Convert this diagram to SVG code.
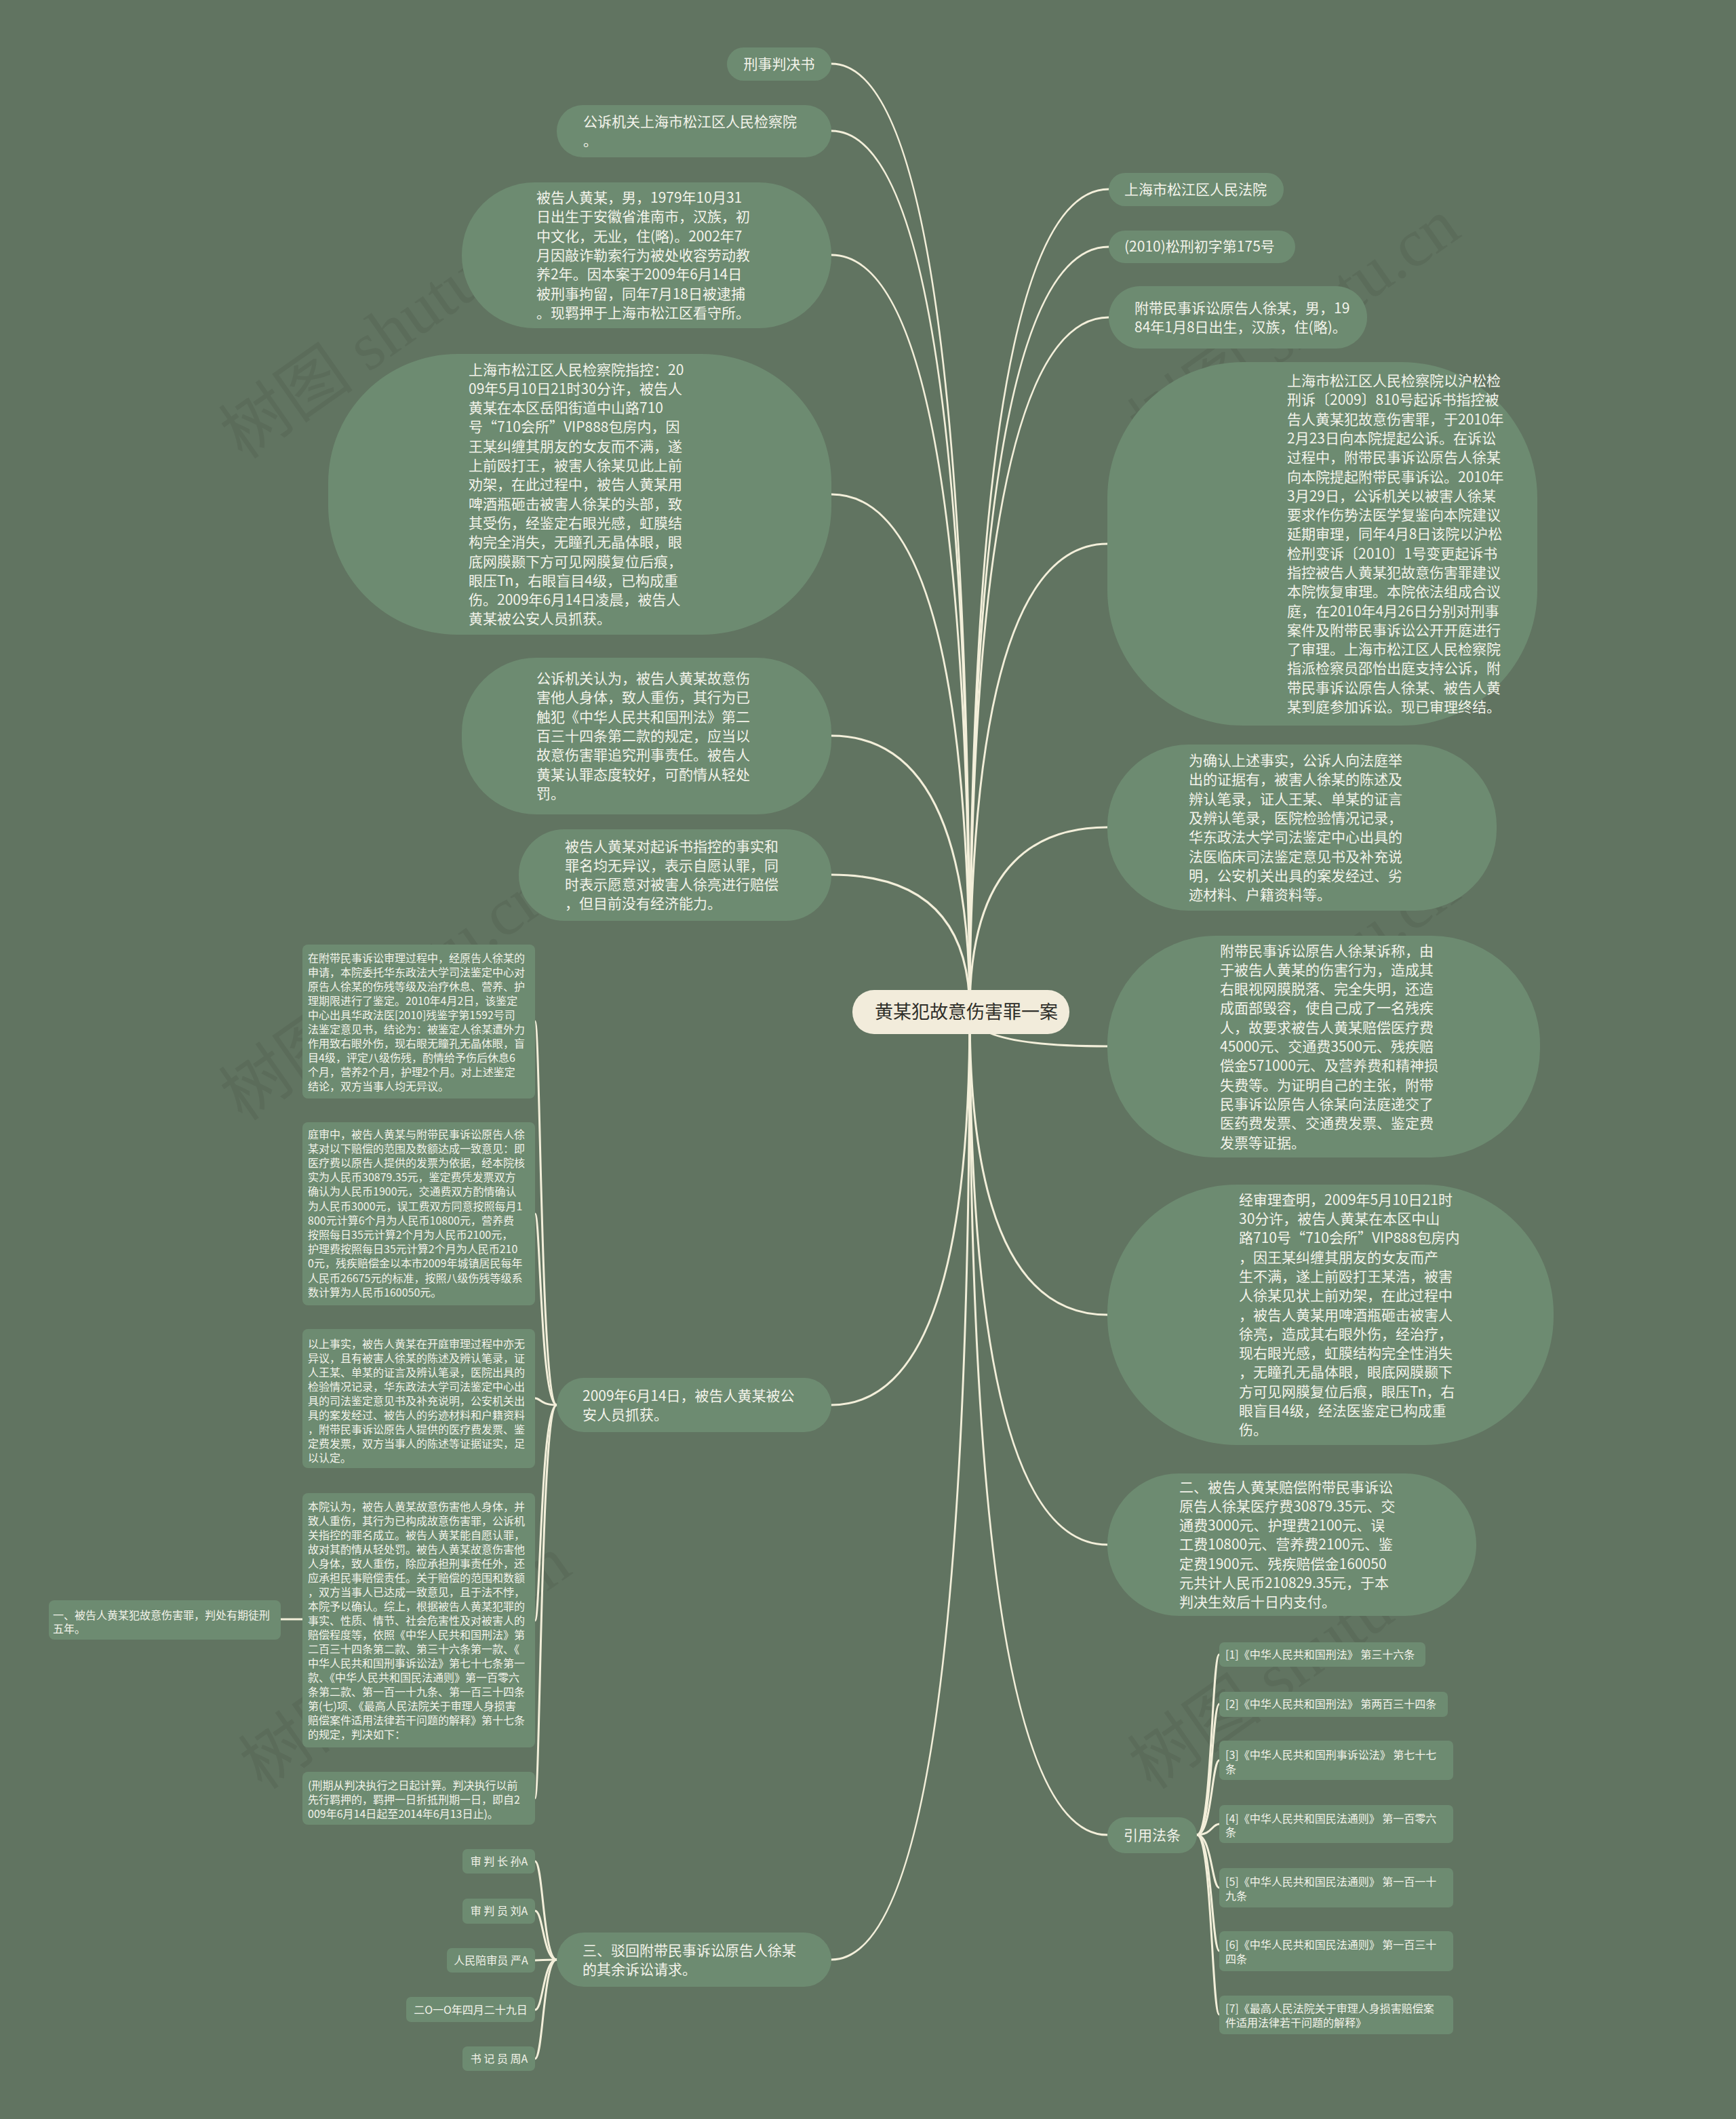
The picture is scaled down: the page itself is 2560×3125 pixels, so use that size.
<svg xmlns="http://www.w3.org/2000/svg" width="2560" height="3125" viewBox="0 0 2560 3125">
<style>
.bg{fill:#617461}
.n{fill:#6d8b71}
.t{font-family:"Noto Sans CJK SC","Noto Sans",sans-serif;font-size:21px;fill:#f3f3ea}
.s{font-size:16px}
.m{text-anchor:middle}
.c{fill:none;stroke:#f3efda;stroke-width:3;stroke-linecap:round}
.wm{font-family:"Liberation Serif","Noto Sans CJK SC",serif;font-size:100px;fill:#3e463c;opacity:0.16}
.ct{font-family:"Noto Sans CJK SC",sans-serif;font-size:27px;fill:#2f2f2a}
</style>
<rect class="bg" x="0" y="0" width="2560" height="3125"/>
<g id="watermarks">
<text class="wm" transform="translate(588,518) rotate(-35)" text-anchor="middle">树图 shutu.cn</text>
<text class="wm" transform="translate(1928,508) rotate(-35)" text-anchor="middle">树图 shutu.cn</text>
<text class="wm" transform="translate(588,1494) rotate(-35)" text-anchor="middle">树图 shutu.cn</text>
<text class="wm" transform="translate(1928,1484) rotate(-35)" text-anchor="middle">树图 shutu.cn</text>
<text class="wm" transform="translate(617,2480) rotate(-35)" text-anchor="middle">树图 shutu.cn</text>
<text class="wm" transform="translate(1928,2480) rotate(-35)" text-anchor="middle">树图 shutu.cn</text>
</g>
<g id="connectors">
<path class="c" d="M1226 94 Q1430 94 1430 1492"/>
<path class="c" d="M1226 193 Q1430 193 1430 1492"/>
<path class="c" d="M1226 376 Q1430 376 1430 1492"/>
<path class="c" d="M1226 729 Q1430 729 1430 1492"/>
<path class="c" d="M1226 1085 Q1430 1085 1430 1492"/>
<path class="c" d="M1226 1290 Q1430 1290 1430 1492"/>
<path class="c" d="M1226 2072 Q1430 2072 1430 1492"/>
<path class="c" d="M1226 2890 Q1430 2890 1430 1492"/>
<path class="c" d="M1635 279 Q1430 279 1430 1492"/>
<path class="c" d="M1635 364 Q1430 364 1430 1492"/>
<path class="c" d="M1635 468 Q1430 468 1430 1492"/>
<path class="c" d="M1633 802 Q1430 802 1430 1492"/>
<path class="c" d="M1633 1220 Q1430 1220 1430 1492"/>
<path class="c" d="M1633 1543 Q1430 1543 1430 1492"/>
<path class="c" d="M1633 1939 Q1430 1939 1430 1492"/>
<path class="c" d="M1633 2278 Q1430 2278 1430 1492"/>
<path class="c" d="M1633 2706 Q1430 2706 1430 1492"/>
<path class="c" d="M821 2072 C797 2072 797 1506 789 1506"/>
<path class="c" d="M821 2072 C797 2072 797 1790 789 1790"/>
<path class="c" d="M821 2072 C797 2072 797 2062 789 2062"/>
<path class="c" d="M821 2072 C797 2072 797 2390 789 2390"/>
<path class="c" d="M821 2072 C797 2072 797 2652 789 2652"/>
<path class="c" d="M446 2388 L414 2388"/>
<path class="c" d="M821 2890 C801 2890 801 2745 789 2745"/>
<path class="c" d="M821 2890 C801 2890 801 2818 789 2818"/>
<path class="c" d="M821 2890 C801 2890 801 2891 789 2891"/>
<path class="c" d="M821 2890 C801 2890 801 2964 789 2964"/>
<path class="c" d="M821 2890 C801 2890 801 3036 789 3036"/>
<path class="c" d="M1765 2706 C1787 2706 1787 2440 1798 2440"/>
<path class="c" d="M1765 2706 C1787 2706 1787 2513 1798 2513"/>
<path class="c" d="M1765 2706 C1787 2706 1787 2596 1798 2596"/>
<path class="c" d="M1765 2706 C1787 2706 1787 2690 1798 2690"/>
<path class="c" d="M1765 2706 C1787 2706 1787 2784 1798 2784"/>
<path class="c" d="M1765 2706 C1787 2706 1787 2877 1798 2877"/>
<path class="c" d="M1765 2706 C1787 2706 1787 2971 1798 2971"/>
</g>
<g id="center">
<rect x="1257" y="1460" width="320" height="65" rx="32" fill="#f2ecdb"/>
<text class="ct" x="1290" y="1502">黄某犯故意伤害罪一案</text>
</g>
<g id="n-L1">
<rect class="n" x="1072" y="70" width="154" height="49" rx="24.5"/>
<text class="t m" x="1149" y="102">刑事判决书</text>
</g>
<g id="n-L2">
<rect class="n" x="821" y="155" width="405" height="77" rx="38"/>
<text class="t" x="860" y="187"><tspan x="860">公诉机关上海市松江区人民检察院</tspan><tspan x="860" dy="28.3">。</tspan></text>
</g>
<g id="n-L3">
<rect class="n" x="681" y="269" width="545" height="215" rx="107"/>
<text class="t" y="299"><tspan x="791">被告人黄某，男，1979年10月31</tspan><tspan x="791" dy="28.3">日出生于安徽省淮南市，汉族，初</tspan><tspan x="791" dy="28.3">中文化，无业，住(略)。2002年7</tspan><tspan x="791" dy="28.3">月因敲诈勒索行为被处收容劳动教</tspan><tspan x="791" dy="28.3">养2年。因本案于2009年6月14日</tspan><tspan x="791" dy="28.3">被刑事拘留，同年7月18日被逮捕</tspan><tspan x="791" dy="28.3">。现羁押于上海市松江区看守所。</tspan></text>
</g>
<g id="n-L4">
<rect class="n" x="484" y="522" width="742" height="414" rx="190"/>
<text class="t" y="552.5"><tspan x="691">上海市松江区人民检察院指控：20</tspan><tspan x="691" dy="28.3">09年5月10日21时30分许，被告人</tspan><tspan x="691" dy="28.3">黄某在本区岳阳街道中山路710</tspan><tspan x="691" dy="28.3">号“710会所”VIP888包房内，因</tspan><tspan x="691" dy="28.3">王某纠缠其朋友的女友而不满，遂</tspan><tspan x="691" dy="28.3">上前殴打王，被害人徐某见此上前</tspan><tspan x="691" dy="28.3">劝架，在此过程中，被告人黄某用</tspan><tspan x="691" dy="28.3">啤酒瓶砸击被害人徐某的头部，致</tspan><tspan x="691" dy="28.3">其受伤，经鉴定右眼光感，虹膜结</tspan><tspan x="691" dy="28.3">构完全消失，无瞳孔无晶体眼，眼</tspan><tspan x="691" dy="28.3">底网膜颞下方可见网膜复位后痕，</tspan><tspan x="691" dy="28.3">眼压Tn，右眼盲目4级，已构成重</tspan><tspan x="691" dy="28.3">伤。2009年6月14日凌晨，被告人</tspan><tspan x="691" dy="28.3">黄某被公安人员抓获。</tspan></text>
</g>
<g id="n-L5">
<rect class="n" x="681" y="970" width="545" height="231" rx="110"/>
<text class="t" y="1008"><tspan x="791">公诉机关认为，被告人黄某故意伤</tspan><tspan x="791" dy="28.3">害他人身体，致人重伤，其行为已</tspan><tspan x="791" dy="28.3">触犯《中华人民共和国刑法》第二</tspan><tspan x="791" dy="28.3">百三十四条第二款的规定，应当以</tspan><tspan x="791" dy="28.3">故意伤害罪追究刑事责任。被告人</tspan><tspan x="791" dy="28.3">黄某认罪态度较好，可酌情从轻处</tspan><tspan x="791" dy="28.3">罚。</tspan></text>
</g>
<g id="n-L6">
<rect class="n" x="765" y="1223" width="461" height="135" rx="67"/>
<text class="t" y="1255.5"><tspan x="833">被告人黄某对起诉书指控的事实和</tspan><tspan x="833" dy="28.3">罪名均无异议，表示自愿认罪，同</tspan><tspan x="833" dy="28.3">时表示愿意对被害人徐亮进行赔偿</tspan><tspan x="833" dy="28.3">，但目前没有经济能力。</tspan></text>
</g>
<g id="n-L7">
<rect class="n" x="821" y="2032" width="405" height="80" rx="40"/>
<text class="t" y="2065.5"><tspan x="859">2009年6月14日，被告人黄某被公</tspan><tspan x="859" dy="28.3">安人员抓获。</tspan></text>
</g>
<g id="n-C1">
<rect class="n" x="446" y="1393" width="343" height="227" rx="8"/>
<text class="t s" y="1418.5"><tspan x="454">在附带民事诉讼审理过程中，经原告人徐某的</tspan><tspan x="454" dy="21">申请，本院委托华东政法大学司法鉴定中心对</tspan><tspan x="454" dy="21">原告人徐某的伤残等级及治疗休息、营养、护</tspan><tspan x="454" dy="21">理期限进行了鉴定。2010年4月2日，该鉴定</tspan><tspan x="454" dy="21">中心出具华政法医[2010]残鉴字第1592号司</tspan><tspan x="454" dy="21">法鉴定意见书，结论为：被鉴定人徐某遭外力</tspan><tspan x="454" dy="21">作用致右眼外伤，现右眼无瞳孔无晶体眼，盲</tspan><tspan x="454" dy="21">目4级，评定八级伤残，酌情给予伤后休息6</tspan><tspan x="454" dy="21">个月，营养2个月，护理2个月。对上述鉴定</tspan><tspan x="454" dy="21">结论，双方当事人均无异议。</tspan></text>
</g>
<g id="n-C2">
<rect class="n" x="446" y="1655" width="343" height="270" rx="8"/>
<text class="t s" y="1678.5"><tspan x="454">庭审中，被告人黄某与附带民事诉讼原告人徐</tspan><tspan x="454" dy="21.2">某对以下赔偿的范围及数额达成一致意见：即</tspan><tspan x="454" dy="21.2">医疗费以原告人提供的发票为依据，经本院核</tspan><tspan x="454" dy="21.2">实为人民币30879.35元，鉴定费凭发票双方</tspan><tspan x="454" dy="21.2">确认为人民币1900元，交通费双方酌情确认</tspan><tspan x="454" dy="21.2">为人民币3000元，误工费双方同意按照每月1</tspan><tspan x="454" dy="21.2">800元计算6个月为人民币10800元，营养费</tspan><tspan x="454" dy="21.2">按照每日35元计算2个月为人民币2100元，</tspan><tspan x="454" dy="21.2">护理费按照每日35元计算2个月为人民币210</tspan><tspan x="454" dy="21.2">0元，残疾赔偿金以本市2009年城镇居民每年</tspan><tspan x="454" dy="21.2">人民币26675元的标准，按照八级伤残等级系</tspan><tspan x="454" dy="21.2">数计算为人民币160050元。</tspan></text>
</g>
<g id="n-C3">
<rect class="n" x="446" y="1960" width="343" height="205" rx="8"/>
<text class="t s" y="1987.5"><tspan x="454">以上事实，被告人黄某在开庭审理过程中亦无</tspan><tspan x="454" dy="21">异议，且有被害人徐某的陈述及辨认笔录，证</tspan><tspan x="454" dy="21">人王某、单某的证言及辨认笔录，医院出具的</tspan><tspan x="454" dy="21">检验情况记录，华东政法大学司法鉴定中心出</tspan><tspan x="454" dy="21">具的司法鉴定意见书及补充说明，公安机关出</tspan><tspan x="454" dy="21">具的案发经过、被告人的劣迹材料和户籍资料</tspan><tspan x="454" dy="21">，附带民事诉讼原告人提供的医疗费发票、鉴</tspan><tspan x="454" dy="21">定费发票，双方当事人的陈述等证据证实，足</tspan><tspan x="454" dy="21">以认定。</tspan></text>
</g>
<g id="n-C4">
<rect class="n" x="446" y="2202" width="343" height="375" rx="8"/>
<text class="t s" y="2227.5"><tspan x="454">本院认为，被告人黄某故意伤害他人身体，并</tspan><tspan x="454" dy="21">致人重伤，其行为已构成故意伤害罪，公诉机</tspan><tspan x="454" dy="21">关指控的罪名成立。被告人黄某能自愿认罪，</tspan><tspan x="454" dy="21">故对其酌情从轻处罚。被告人黄某故意伤害他</tspan><tspan x="454" dy="21">人身体，致人重伤，除应承担刑事责任外，还</tspan><tspan x="454" dy="21">应承担民事赔偿责任。关于赔偿的范围和数额</tspan><tspan x="454" dy="21">，双方当事人已达成一致意见，且于法不悖，</tspan><tspan x="454" dy="21">本院予以确认。综上，根据被告人黄某犯罪的</tspan><tspan x="454" dy="21">事实、性质、情节、社会危害性及对被害人的</tspan><tspan x="454" dy="21">赔偿程度等，依照《中华人民共和国刑法》第</tspan><tspan x="454" dy="21">二百三十四条第二款、第三十六条第一款、《</tspan><tspan x="454" dy="21">中华人民共和国刑事诉讼法》第七十七条第一</tspan><tspan x="454" dy="21">款、《中华人民共和国民法通则》第一百零六</tspan><tspan x="454" dy="21">条第二款、第一百一十九条、第一百三十四条</tspan><tspan x="454" dy="21">第(七)项、《最高人民法院关于审理人身损害</tspan><tspan x="454" dy="21">赔偿案件适用法律若干问题的解释》第十七条</tspan><tspan x="454" dy="21">的规定，判决如下：</tspan></text>
</g>
<g id="n-F">
<rect class="n" x="72" y="2360" width="342" height="58" rx="8"/>
<text class="t s" y="2387.5"><tspan x="78">一、被告人黄某犯故意伤害罪，判处有期徒刑</tspan><tspan x="78" dy="20">五年。</tspan></text>
</g>
<g id="n-C5">
<rect class="n" x="446" y="2613" width="343" height="78" rx="8"/>
<text class="t s" y="2638.5"><tspan x="454">(刑期从判决执行之日起计算。判决执行以前</tspan><tspan x="454" dy="21">先行羁押的，羁押一日折抵刑期一日，即自2</tspan><tspan x="454" dy="21">009年6月14日起至2014年6月13日止)。</tspan></text>
</g>
<g id="n-L8">
<rect class="n" x="821" y="2850" width="405" height="80" rx="40"/>
<text class="t" y="2883.5"><tspan x="859">三、驳回附带民事诉讼原告人徐某</tspan><tspan x="859" dy="28.3">的其余诉讼请求。</tspan></text>
</g>
<g id="n-D1">
<rect class="n" x="682" y="2727" width="107" height="36" rx="7"/>
<text class="t s m" x="736" y="2750.5">审 判 长 孙A</text>
</g>
<g id="n-D2">
<rect class="n" x="682" y="2800" width="107" height="37" rx="7"/>
<text class="t s m" x="736" y="2823.5">审 判 员 刘A</text>
</g>
<g id="n-D3">
<rect class="n" x="659" y="2873" width="130" height="36" rx="7"/>
<text class="t s m" x="724" y="2896.5">人民陪审员 严A</text>
</g>
<g id="n-D4">
<rect class="n" x="599" y="2945" width="190" height="37" rx="7"/>
<text class="t s m" x="694" y="2969.5">二O一O年四月二十九日</text>
</g>
<g id="n-D5">
<rect class="n" x="682" y="3018" width="107" height="36" rx="7"/>
<text class="t s m" x="736" y="3041.5">书 记 员 周A</text>
</g>
<g id="n-Ra">
<rect class="n" x="1635" y="255" width="258" height="49" rx="24.5"/>
<text class="t" x="1658" y="287">上海市松江区人民法院</text>
</g>
<g id="n-Rb">
<rect class="n" x="1635" y="340" width="275" height="48" rx="24"/>
<text class="t" x="1658" y="371">(2010)松刑初字第175号</text>
</g>
<g id="n-Rc">
<rect class="n" x="1635" y="422" width="381" height="92" rx="46"/>
<text class="t" y="461.5"><tspan x="1673">附带民事诉讼原告人徐某，男，19</tspan><tspan x="1673" dy="28">84年1月8日出生，汉族，住(略)。</tspan></text>
</g>
<g id="n-Rd">
<rect class="n" x="1633" y="534" width="634" height="536" rx="200"/>
<text class="t" y="569"><tspan x="1898">上海市松江区人民检察院以沪松检</tspan><tspan x="1898" dy="28.3">刑诉〔2009〕810号起诉书指控被</tspan><tspan x="1898" dy="28.3">告人黄某犯故意伤害罪，于2010年</tspan><tspan x="1898" dy="28.3">2月23日向本院提起公诉。在诉讼</tspan><tspan x="1898" dy="28.3">过程中，附带民事诉讼原告人徐某</tspan><tspan x="1898" dy="28.3">向本院提起附带民事诉讼。2010年</tspan><tspan x="1898" dy="28.3">3月29日，公诉机关以被害人徐某</tspan><tspan x="1898" dy="28.3">要求作伤势法医学复鉴向本院建议</tspan><tspan x="1898" dy="28.3">延期审理，同年4月8日该院以沪松</tspan><tspan x="1898" dy="28.3">检刑变诉〔2010〕1号变更起诉书</tspan><tspan x="1898" dy="28.3">指控被告人黄某犯故意伤害罪建议</tspan><tspan x="1898" dy="28.3">本院恢复审理。本院依法组成合议</tspan><tspan x="1898" dy="28.3">庭，在2010年4月26日分别对刑事</tspan><tspan x="1898" dy="28.3">案件及附带民事诉讼公开开庭进行</tspan><tspan x="1898" dy="28.3">了审理。上海市松江区人民检察院</tspan><tspan x="1898" dy="28.3">指派检察员邵怡出庭支持公诉，附</tspan><tspan x="1898" dy="28.3">带民事诉讼原告人徐某、被告人黄</tspan><tspan x="1898" dy="28.3">某到庭参加诉讼。现已审理终结。</tspan></text>
</g>
<g id="n-Re">
<rect class="n" x="1633" y="1098" width="574" height="245" rx="120"/>
<text class="t" y="1129"><tspan x="1753">为确认上述事实，公诉人向法庭举</tspan><tspan x="1753" dy="28.3">出的证据有，被害人徐某的陈述及</tspan><tspan x="1753" dy="28.3">辨认笔录，证人王某、单某的证言</tspan><tspan x="1753" dy="28.3">及辨认笔录，医院检验情况记录，</tspan><tspan x="1753" dy="28.3">华东政法大学司法鉴定中心出具的</tspan><tspan x="1753" dy="28.3">法医临床司法鉴定意见书及补充说</tspan><tspan x="1753" dy="28.3">明，公安机关出具的案发经过、劣</tspan><tspan x="1753" dy="28.3">迹材料、户籍资料等。</tspan></text>
</g>
<g id="n-Rf">
<rect class="n" x="1633" y="1380" width="638" height="327" rx="160"/>
<text class="t" y="1409.5"><tspan x="1799">附带民事诉讼原告人徐某诉称，由</tspan><tspan x="1799" dy="28.3">于被告人黄某的伤害行为，造成其</tspan><tspan x="1799" dy="28.3">右眼视网膜脱落、完全失明，还造</tspan><tspan x="1799" dy="28.3">成面部毁容，使自己成了一名残疾</tspan><tspan x="1799" dy="28.3">人，故要求被告人黄某赔偿医疗费</tspan><tspan x="1799" dy="28.3">45000元、交通费3500元、残疾赔</tspan><tspan x="1799" dy="28.3">偿金571000元、及营养费和精神损</tspan><tspan x="1799" dy="28.3">失费等。为证明自己的主张，附带</tspan><tspan x="1799" dy="28.3">民事诉讼原告人徐某向法庭递交了</tspan><tspan x="1799" dy="28.3">医药费发票、交通费发票、鉴定费</tspan><tspan x="1799" dy="28.3">发票等证据。</tspan></text>
</g>
<g id="n-Rg">
<rect class="n" x="1633" y="1747" width="658" height="384" rx="190"/>
<text class="t" y="1776.7"><tspan x="1827">经审理查明，2009年5月10日21时</tspan><tspan x="1827" dy="28.3">30分许，被告人黄某在本区中山</tspan><tspan x="1827" dy="28.3">路710号“710会所”VIP888包房内</tspan><tspan x="1827" dy="28.3">，因王某纠缠其朋友的女友而产</tspan><tspan x="1827" dy="28.3">生不满，遂上前殴打王某浩，被害</tspan><tspan x="1827" dy="28.3">人徐某见状上前劝架，在此过程中</tspan><tspan x="1827" dy="28.3">，被告人黄某用啤酒瓶砸击被害人</tspan><tspan x="1827" dy="28.3">徐亮，造成其右眼外伤，经治疗，</tspan><tspan x="1827" dy="28.3">现右眼光感，虹膜结构完全性消失</tspan><tspan x="1827" dy="28.3">，无瞳孔无晶体眼，眼底网膜颞下</tspan><tspan x="1827" dy="28.3">方可见网膜复位后痕，眼压Tn，右</tspan><tspan x="1827" dy="28.3">眼盲目4级，经法医鉴定已构成重</tspan><tspan x="1827" dy="28.3">伤。</tspan></text>
</g>
<g id="n-Rh">
<rect class="n" x="1633" y="2173" width="544" height="210" rx="105"/>
<text class="t" y="2200.5"><tspan x="1739">二、被告人黄某赔偿附带民事诉讼</tspan><tspan x="1739" dy="28.3">原告人徐某医疗费30879.35元、交</tspan><tspan x="1739" dy="28.3">通费3000元、护理费2100元、误</tspan><tspan x="1739" dy="28.3">工费10800元、营养费2100元、鉴</tspan><tspan x="1739" dy="28.3">定费1900元、残疾赔偿金160050</tspan><tspan x="1739" dy="28.3">元共计人民币210829.35元，于本</tspan><tspan x="1739" dy="28.3">判决生效后十日内支付。</tspan></text>
</g>
<g id="n-cite">
<rect class="n" x="1633" y="2680" width="132" height="53" rx="26.5"/>
<text class="t m" x="1699" y="2714">引用法条</text>
</g>
<g id="n-R1">
<rect class="n" x="1798" y="2422" width="304" height="36" rx="7"/>
<text class="t s" x="1807" y="2445.5">[1]《中华人民共和国刑法》 第三十六条</text>
</g>
<g id="n-R2">
<rect class="n" x="1798" y="2495" width="337" height="37" rx="7"/>
<text class="t s" x="1807" y="2519">[2]《中华人民共和国刑法》 第两百三十四条</text>
</g>
<g id="n-R3">
<rect class="n" x="1798" y="2567" width="345" height="58" rx="7"/>
<text class="t s" y="2593.5"><tspan x="1807">[3]《中华人民共和国刑事诉讼法》 第七十七</tspan><tspan x="1807" dy="21">条</tspan></text>
</g>
<g id="n-R4">
<rect class="n" x="1798" y="2662" width="345" height="56" rx="7"/>
<text class="t s" y="2687.5"><tspan x="1807">[4]《中华人民共和国民法通则》 第一百零六</tspan><tspan x="1807" dy="20.5">条</tspan></text>
</g>
<g id="n-R5">
<rect class="n" x="1798" y="2755" width="345" height="58" rx="7"/>
<text class="t s" y="2780.5"><tspan x="1807">[5]《中华人民共和国民法通则》 第一百一十</tspan><tspan x="1807" dy="21.5">九条</tspan></text>
</g>
<g id="n-R6">
<rect class="n" x="1798" y="2848" width="345" height="59" rx="7"/>
<text class="t s" y="2873.5"><tspan x="1807">[6]《中华人民共和国民法通则》 第一百三十</tspan><tspan x="1807" dy="21.5">四条</tspan></text>
</g>
<g id="n-R7">
<rect class="n" x="1798" y="2943" width="345" height="57" rx="7"/>
<text class="t s" y="2967.5"><tspan x="1807">[7]《最高人民法院关于审理人身损害赔偿案</tspan><tspan x="1807" dy="21.5">件适用法律若干问题的解释》</tspan></text>
</g>
</svg>
